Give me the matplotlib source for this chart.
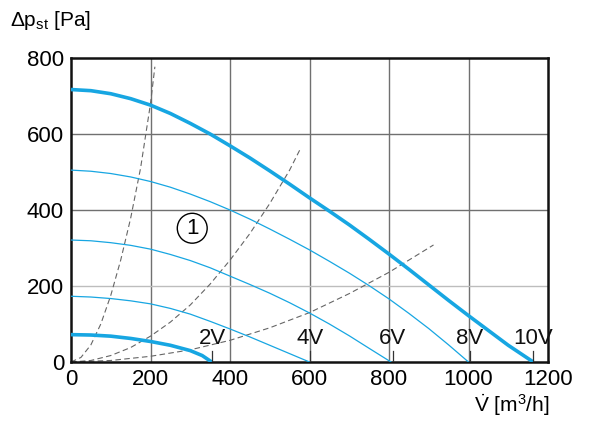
import numpy as np
import matplotlib
matplotlib.use('Agg')
import matplotlib.pyplot as plt

plt.rcParams['font.family'] = ['Liberation Sans Narrow', 'Liberation Sans', 'DejaVu Sans']
plt.rcParams['mathtext.fontset'] = 'custom'
plt.rcParams['mathtext.rm'] = 'Liberation Sans'
plt.rcParams['mathtext.it'] = 'Liberation Sans'

# fan curves (flow m3/h, pressure Pa)
v10_x = [0, 50, 100, 150, 200, 250, 300, 350, 400, 450, 500, 550, 600, 650, 700,
         750, 800, 850, 900, 950, 1000, 1050, 1100, 1163]
v10_y = [717, 714, 706, 693, 676, 654, 628, 600, 569, 537, 503, 468, 432, 397, 361,
         323, 284, 244, 203, 162, 122, 83, 44, 0]
v8_x = [0, 50, 100, 150, 200, 250, 300, 350, 400, 450, 500, 550, 600, 650, 700,
        750, 800, 850, 900, 950, 1000]
v8_y = [505, 502, 496, 487, 475, 460, 442, 422, 400, 376, 350, 323, 295, 265, 234,
        201, 166, 128, 88, 45, 0]
v6_x = [0, 50, 100, 150, 200, 250, 300, 350, 400, 450, 500, 550, 600, 650, 700, 750, 805]
v6_y = [321, 319, 314, 307, 297, 283, 267, 248, 226, 204, 181, 156, 129, 100, 69, 36, 0]
v4_x = [0, 50, 100, 150, 200, 250, 300, 350, 400, 450, 500, 550, 600]
v4_y = [173, 171, 167, 161, 153, 141, 126, 107, 87, 66, 44, 22, 0]
v2_x = [0, 50, 100, 150, 200, 250, 300, 330, 354]
v2_y = [72, 71, 68, 62, 54, 44, 30, 17, 0]

# system curves
sa_x = [0, 25, 50, 75, 100, 125, 150, 175, 200, 211]
sa_y = [0, 12, 45, 100, 175, 268, 378, 510, 680, 777]
sb_x = [0, 50, 100, 150, 200, 250, 300, 350, 400, 450, 500, 550, 576]
sb_y = [0, 4, 17, 38, 68, 105, 150, 205, 268, 338, 417, 505, 559]
sc_x = [0, 100, 200, 300, 400, 500, 600, 700, 800, 912]
sc_y = [0, 4, 15, 32, 57, 90, 130, 180, 236, 308]

volt_labels = ['2V', '4V', '6V', '8V', '10V']
volt_x = [355, 601, 810, 1004, 1163]

xticks = [0, 200, 400, 600, 800, 1000, 1200]
yticks = [0, 200, 400, 600, 800]

blue = '#17a6e2'

fig = plt.figure(figsize=(6, 4.23), dpi=100)
ax = fig.add_axes([71/600, 1-362/423, 477/600, 304/423])
ax.set_xlim(0, 1200)
ax.set_ylim(0, 800)

for gx in [200, 400, 600, 800, 1000]:
    ax.axvline(gx, color='#707070', lw=1.0, zorder=1)
for gy, c in [(200, '#bdbdbd'), (400, '#707070'), (600, '#707070')]:
    ax.axhline(gy, color=c, lw=1.0, zorder=1)

for sx, sy in [(sa_x, sa_y), (sb_x, sb_y), (sc_x, sc_y)]:
    ax.plot(sx, sy, color='#666666', lw=0.8, dashes=(5, 3), zorder=2)

ax.plot(v8_x, v8_y, color=blue, lw=0.9, zorder=3)
ax.plot(v6_x, v6_y, color=blue, lw=0.9, zorder=3)
ax.plot(v4_x, v4_y, color=blue, lw=0.9, zorder=3)
ax.plot(v10_x, v10_y, color=blue, lw=2.6, zorder=3, solid_capstyle='butt')
ax.plot(v2_x, v2_y, color=blue, lw=2.6, zorder=3, solid_capstyle='butt')

for lab, vx in zip(volt_labels, volt_x):
    ax.plot([vx, vx], [0, 30], color='#333333', lw=0.9, zorder=4)
    ax.text(vx, 34, lab, ha='center', va='bottom', fontsize=16, color='#111111', zorder=4)

ax.text(305, 352, '1', ha='center', va='center', fontsize=16,
        bbox=dict(boxstyle='circle,pad=0.2', fc='none', ec='black', lw=1.0))

ax.set_xticks(xticks)
ax.set_yticks(yticks)
ax.tick_params(length=0, labelsize=16, pad=5)
for s in ax.spines.values():
    s.set_linewidth(1.8)
    s.set_color('#111111')

fig.text(10/600, 1-21/423, r'$\Delta$p$_{\mathrm{st}}$ [Pa]', fontsize=15, va='center', ha='left')
fig.text(549/600, 1-405/423, r'$\dot{\mathrm{V}}$ [m$^{3}$/h]', fontsize=15, va='center', ha='right')

fig.savefig('out.png', dpi=100)
